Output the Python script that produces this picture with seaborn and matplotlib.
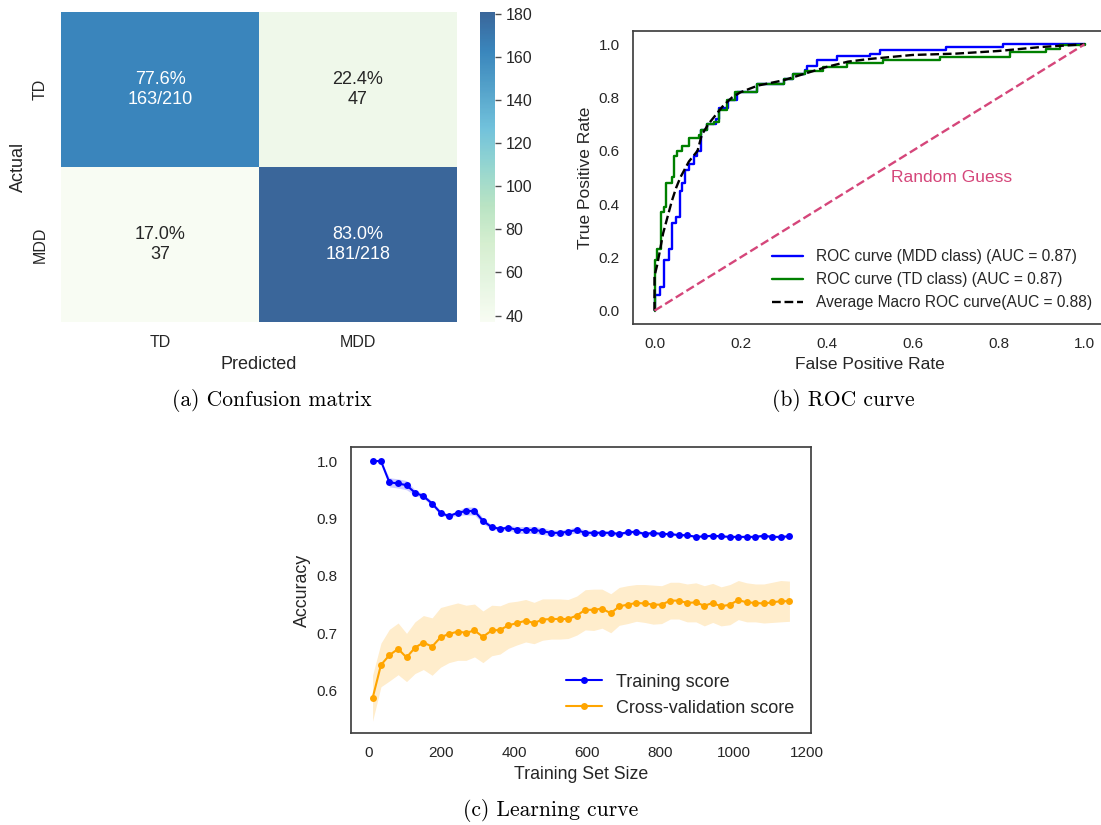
import numpy as np
import pandas as pd
import matplotlib
matplotlib.use('Agg')
import matplotlib.pyplot as plt
import seaborn as sns

# confusion matrix
classes = ['TD', 'MDD']
cm_counts = [[163, 47], [37, 181]]
cm_labels = [['77.6%\n163/210', '22.4%\n47'],
             ['17.0%\n37', '83.0%\n181/218']]

# ROC curves (step points)
mdd_fpr = [0, 0, 0.012, 0.022, 0.033, 0.041, 0.049, 0.059, 0.064, 0.072, 0.080, 0.091, 0.099, 0.107,
           0.122, 0.142, 0.149, 0.172, 0.192, 0.238, 0.30, 0.323, 0.35, 0.354, 0.378, 0.424, 0.50,
           0.524, 0.679, 0.81, 1.0]
mdd_tpr = [0, 0.06, 0.09, 0.19, 0.23, 0.33, 0.35, 0.45, 0.48, 0.53, 0.55, 0.58, 0.60, 0.68,
           0.70, 0.72, 0.76, 0.79, 0.82, 0.85, 0.87, 0.89, 0.905, 0.92, 0.94, 0.955, 0.965,
           0.98, 0.99, 1.0, 1.0]
td_fpr = [0, 0, 0.006, 0.014, 0.022, 0.026, 0.041, 0.045, 0.053, 0.064, 0.080, 0.103, 0.108, 0.122,
          0.138, 0.149, 0.169, 0.188, 0.238, 0.30, 0.323, 0.35, 0.393, 0.447, 0.532, 0.664, 0.826,
          0.911, 0.942, 1.0]
td_tpr = [0, 0.19, 0.23, 0.37, 0.39, 0.48, 0.50, 0.58, 0.60, 0.62, 0.65, 0.66, 0.68, 0.70,
          0.71, 0.755, 0.79, 0.82, 0.85, 0.87, 0.89, 0.90, 0.915, 0.93, 0.94, 0.952, 0.971,
          0.984, 0.996, 1.0]
avg_fpr = [0, 0, 0.006, 0.012, 0.02, 0.03, 0.04, 0.05, 0.06, 0.07, 0.08, 0.09, 0.10, 0.11, 0.125,
           0.14, 0.16, 0.18, 0.20, 0.24, 0.30, 0.35, 0.40, 0.45, 0.50, 0.60, 0.70, 0.80, 0.90, 0.95, 1.0]
avg_tpr = [0, 0.13, 0.17, 0.22, 0.29, 0.35, 0.41, 0.46, 0.50, 0.53, 0.56, 0.58, 0.60, 0.66, 0.70,
           0.73, 0.77, 0.80, 0.82, 0.845, 0.865, 0.89, 0.915, 0.935, 0.945, 0.96, 0.965, 0.975,
           0.99, 0.995, 1.0]

# learning curve
train_sizes = [12, 35, 58, 82, 105, 128, 151, 175, 198, 221, 245, 268, 291, 314, 338, 361, 384,
               408, 431, 454, 477, 501, 524, 547, 571, 594, 617, 640, 664, 687, 710, 734, 757,
               780, 803, 827, 850, 873, 897, 920, 943, 966, 990, 1013, 1036, 1060, 1083, 1106,
               1129, 1153]
train_mean = [1.000, 1.000, 0.963, 0.961, 0.958, 0.945, 0.939, 0.926, 0.910, 0.904, 0.910, 0.913,
              0.913, 0.896, 0.885, 0.882, 0.884, 0.880, 0.880, 0.880, 0.878, 0.875, 0.875, 0.877,
              0.880, 0.875, 0.875, 0.875, 0.875, 0.873, 0.876, 0.877, 0.873, 0.875, 0.873, 0.873,
              0.871, 0.871, 0.868, 0.869, 0.870, 0.869, 0.868, 0.868, 0.868, 0.868, 0.870, 0.868,
              0.868, 0.869]
train_std = [0.000, 0.000, 0.008, 0.008, 0.008, 0.005, 0.004, 0.004, 0.004, 0.003, 0.004, 0.007,
             0.007, 0.005, 0.004, 0.003, 0.004, 0.006, 0.006, 0.006, 0.006, 0.005, 0.005, 0.005,
             0.005, 0.005, 0.004, 0.004, 0.004, 0.003, 0.003, 0.003, 0.003, 0.003, 0.003, 0.002,
             0.002, 0.002, 0.002, 0.002, 0.002, 0.002, 0.002, 0.002, 0.002, 0.002, 0.002, 0.002,
             0.002, 0.002]
cv_mean = [0.587, 0.645, 0.662, 0.673, 0.658, 0.675, 0.684, 0.677, 0.693, 0.699, 0.703, 0.701,
           0.705, 0.694, 0.705, 0.706, 0.714, 0.718, 0.722, 0.718, 0.724, 0.725, 0.725, 0.725,
           0.731, 0.741, 0.741, 0.743, 0.735, 0.747, 0.750, 0.753, 0.752, 0.750, 0.750, 0.757,
           0.757, 0.753, 0.754, 0.748, 0.753, 0.747, 0.750, 0.758, 0.754, 0.753, 0.752, 0.754,
           0.756, 0.756]
cv_std = [0.040, 0.038, 0.045, 0.045, 0.042, 0.045, 0.047, 0.050, 0.052, 0.050, 0.050, 0.048,
          0.046, 0.045, 0.044, 0.042, 0.040, 0.038, 0.037, 0.036, 0.036, 0.035, 0.035, 0.034,
          0.034, 0.035, 0.036, 0.034, 0.034, 0.033, 0.033, 0.032, 0.033, 0.034, 0.033, 0.032,
          0.032, 0.033, 0.034, 0.035, 0.034, 0.034, 0.035, 0.034, 0.034, 0.033, 0.034, 0.035,
          0.036, 0.035]

sns.set_theme(style='white')
plt.rcParams['font.family'] = ['Liberation Sans', 'DejaVu Sans']
plt.rcParams['axes.edgecolor'] = '.25'

fig = plt.figure(figsize=(11.01, 8.25), dpi=100)
W, H = 1101, 825


def px_axes(left, top, right, bottom):
    return fig.add_axes([left / W, 1 - bottom / H, (right - left) / W, (bottom - top) / H])


# (a) confusion matrix
ax1 = px_axes(61, 12, 457, 322)
cax = px_axes(480, 12, 495, 322)
cm_df = pd.DataFrame(cm_counts, index=classes, columns=classes)
sns.heatmap(cm_df, annot=np.array(cm_labels), fmt='', cmap='GnBu', alpha=0.8, ax=ax1, cbar_ax=cax,
            annot_kws={'size': 13})
ax1.set_xlabel('Predicted', fontsize=13)
ax1.set_ylabel('Actual', fontsize=13)
ax1.tick_params(labelsize=11.5)
plt.setp(ax1.get_yticklabels(), rotation=90, va='center')
cax.tick_params(right=True, length=4, width=1, color='.3', labelsize=11.5)
cax.set_yticks([40, 60, 80, 100, 120, 140, 160, 180])

# (b) ROC curve
ax2 = px_axes(633, 31, 1106, 324)
guess_color = '#d5467a'
ax2.plot(mdd_fpr, mdd_tpr, color='blue', lw=1.7, drawstyle='steps-post',
         label='ROC curve (MDD class) (AUC = 0.87)')
ax2.plot(td_fpr, td_tpr, color='green', lw=1.7, drawstyle='steps-post',
         label='ROC curve (TD class) (AUC = 0.87)')
ax2.plot(avg_fpr, avg_tpr, color='black', lw=1.7, ls='--',
         label='Average Macro ROC curve(AUC = 0.88)')
ax2.plot([0, 1], [0, 1], color=guess_color, lw=1.7, ls='--')
ax2.text(0.55, 0.5, 'Random Guess', color=guess_color, fontsize=12.5, va='center')
ax2.set_xlim(-0.05, 1.05)
ax2.set_ylim(-0.05, 1.05)
ax2.set_xticks([0, 0.2, 0.4, 0.6, 0.8, 1.0])
ax2.set_yticks([0, 0.2, 0.4, 0.6, 0.8, 1.0])
ax2.set_xlabel('False Positive Rate', fontsize=12.5)
ax2.set_ylabel('True Positive Rate', fontsize=12.5)
ax2.tick_params(labelsize=11)
ax2.legend(loc='lower right', frameon=False, fontsize=11.2)

# (c) learning curve
ax3 = px_axes(351, 447, 811, 733)
tr_lo = np.array(train_mean) - np.array(train_std)
tr_hi = np.array(train_mean) + np.array(train_std)
cv_lo = np.array(cv_mean) - np.array(cv_std)
cv_hi = np.array(cv_mean) + np.array(cv_std)
ax3.fill_between(train_sizes, tr_lo, tr_hi, color='blue', alpha=0.2, lw=0)
ax3.fill_between(train_sizes, cv_lo, cv_hi, color='orange', alpha=0.2, lw=0)
sns.lineplot(x=train_sizes, y=train_mean, color='blue', marker='o', markersize=5,
             markeredgewidth=0, lw=1.5, ax=ax3, label='Training score')
sns.lineplot(x=train_sizes, y=cv_mean, color='orange', marker='o', markersize=5,
             markeredgewidth=0, lw=1.5, ax=ax3, label='Cross-validation score')
ax3.set_xticks([0, 200, 400, 600, 800, 1000, 1200])
ax3.set_yticks([0.6, 0.7, 0.8, 0.9, 1.0])
ax3.set_xlim(-47, 1212)
ax3.set_ylim(0.5265, 1.0245)
ax3.set_xlabel('Training Set Size', fontsize=12.8)
ax3.set_ylabel('Accuracy', fontsize=12.8)
ax3.tick_params(labelsize=11)
ax3.legend(loc='lower right', frameon=False, fontsize=13)

# captions
cap = dict(family='cmr10', fontsize=15.5, ha='center', va='center', color='black')
fig.text(272 / W, 1 - 400 / H, '(a) Confusion matrix', **cap)
fig.text(843 / W, 1 - 400 / H, '(b) ROC curve', **cap)
fig.text(551 / W, 1 - 810 / H, '(c) Learning curve', **cap)

fig.savefig('out.png', dpi=100)
